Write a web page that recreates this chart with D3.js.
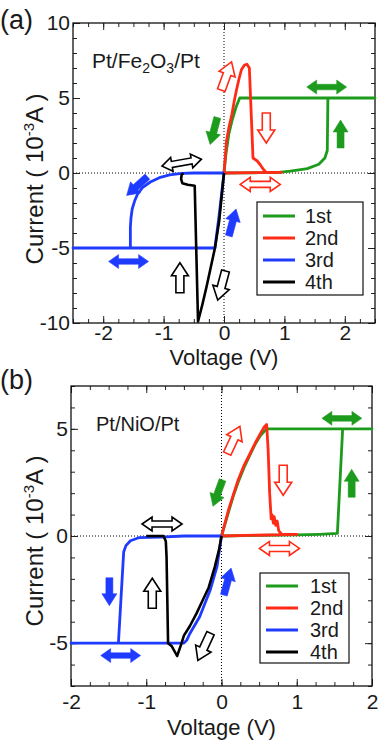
<!DOCTYPE html>
<html>
<head>
<meta charset="utf-8">
<script src="https://cdn.jsdelivr.net/npm/d3@7"></script>
<style>
body { margin: 0; background: #fff; }
svg { display: block; font-family: "Liberation Sans", Arial, sans-serif; }
</style>
</head>
<body>
<div id="chart"></div>
<script>
// sweep names and colours, shared by both panels
var seriesNames = ["1st", "2nd", "3rd", "4th"];
var seriesColors = ["#1d9b1d", "#ff2b16", "#1f3bff", "#000000"];

// ---- (a) Pt/Fe2O3/Pt : voltage (V), current (10^-3 A)
var aXTicks = [-2, -1, 0, 1, 2];
var aYTicks = [-10, -5, 0, 5, 10];
var a1st = [[0,0],[0.3,0.01],[0.6,0.02],[0.9,0.04],[1.1,0.13],[1.38,0.29],[1.57,0.58],[1.67,1.0],[1.71,1.5],[1.72,5.0],
            [2.5,5.0],[0.26,5.0],[0.2,4.4],[0.14,3.6],[0.08,2.6],[0.03,1.2],[0,0]];
var a2nd = [[0,0],[0.02,1.0],[0.04,2.1],[0.08,3.0],[0.13,3.9],[0.17,4.8],[0.21,5.6],[0.25,6.3],[0.29,6.9],[0.34,7.2],[0.38,7.25],
            [0.42,7.0],[0.45,4.0],[0.48,1.0],[0.55,0.8],[0.6,0.55],[0.65,0.25],[0.7,0.04],[0.95,0.04],[0,0]];
var a3rd = [[0,0],[-0.5,0],[-0.7,-0.03],[-0.9,-0.13],[-1.07,-0.31],[-1.22,-0.6],[-1.35,-0.98],[-1.43,-1.4],[-1.48,-1.87],
            [-1.52,-2.4],[-1.54,-3.0],[-1.55,-3.6],[-1.55,-5.0],[-2.5,-5.0],[-0.15,-5.0],[-0.08,-2.8],[0,0]];
var a4th = [[0,0],[-0.04,-1.6],[-0.08,-3.2],[-0.15,-5.0],[-0.22,-6.3],[-0.29,-7.6],[-0.36,-8.8],[-0.43,-9.9],
            [-0.46,-5.0],[-0.485,-0.85],[-0.6,-0.78],[-0.69,-0.68],[-0.71,-0.4],[-0.7,-0.1],[-0.67,-0.02]];

// ---- (b) Pt/NiO/Pt
var bXTicks = [-2, -1, 0, 1, 2];
var bYTicks = [-5, 0, 5];
var b1st = [[0,0],[0.5,0.03],[1.0,0.05],[1.3,0.08],[1.54,0.12],[1.61,5.0],[2.0,5.0],[0.6,5.0],[0.52,4.7],[0.45,4.3],
            [0.38,3.8],[0.3,3.2],[0.22,2.5],[0.16,1.9],[0.1,1.2],[0.05,0.6],[0,0]];
var b2nd = [[0,0],[0.05,0.65],[0.1,1.3],[0.16,1.95],[0.22,2.6],[0.3,3.3],[0.38,3.85],[0.45,4.35],[0.52,4.8],[0.57,5.1],[0.6,5.2],
            [0.62,4.0],[0.64,2.0],[0.66,0.8],[0.67,1.0],[0.69,0.6],[0.7,0.9],[0.72,0.5],[0.74,0.7],[0.76,0.25],[0.8,0.08],[1.0,0.08],[0,0]];
var b3rd = [[0,0],[-0.5,0],[-0.81,-0.05],[-1.1,-0.08],[-1.21,-0.22],[-1.27,-0.45],[-1.3,-0.75],[-1.37,-5.0],[-2.0,-5.0],
            [-0.5,-5.0],[-0.46,-4.85],[-0.42,-4.55],[-0.29,-3.77],[-0.15,-2.52],[-0.06,-1.43],[0,0]];
var b4th = [[0,0],[-0.03,-0.6],[-0.09,-1.45],[-0.17,-2.4],[-0.25,-3.0],[-0.33,-3.6],[-0.42,-4.2],[-0.5,-4.65],[-0.53,-5.0],
            [-0.59,-5.6],[-0.66,-5.15],[-0.71,-5.0],[-0.73,-1.0],[-0.74,-0.25],[-0.77,0],[-1.0,0]];

// arrow annotations: [voltage, current, kind, angle(deg, clockwise from up), series]
var aArrows = [
  [1.7, 5.73, "double", 0, 0], [1.93, 2.6, "single", 0, 0], [-0.17, 2.8, "single", 195, 0],
  [0.04, 6.47, "hollow", 20, 1], [0.7, 3.0, "hollow", 180, 1], [0.6, -0.76, "hollowDouble", 0, 1],
  [-0.7, 0.69, "hollowDouble", -10, 3], [-1.44, -0.87, "single", 228, 2], [-1.58, -5.9, "double", 0, 2],
  [0.14, -3.3, "single", 15, 2], [-0.73, -6.98, "hollow", 0, 3], [-0.04, -7.5, "hollow", 195, 3]
];
var bArrows = [
  [1.6, 5.49, "double", 0, 0], [1.73, 2.46, "single", 0, 0], [-0.05, 2.0, "single", 200, 0],
  [0.16, 4.48, "hollow", 25, 1], [0.82, 2.6, "hollow", 180, 1], [0.77, -0.58, "hollowDouble", 0, 1],
  [-0.79, 0.56, "hollowDouble", 0, 3], [-1.49, -2.6, "single", 180, 2], [-1.34, -5.58, "double", 0, 2],
  [0.08, -2.13, "single", 15, 2], [-0.92, -2.67, "hollow", 0, 3], [-0.23, -5.17, "hollow", 205, 3]
];

var svg = d3.select("#chart").append("svg")
    .attr("width", 382)
    .attr("height", 741);

var arrowShapes = {
    single: "M0,-14 L7.5,-2 L3.5,-2 L3.5,14 L-3.5,14 L-3.5,-2 L-7.5,-2 Z",
    hollow: "M0,-15 L8.5,-2 L4,-2 L4,15 L-4,15 L-4,-2 L-8.5,-2 Z",
    double: "M-20,0 L-10,-7 L-10,-2.8 L10,-2.8 L10,-7 L20,0 L10,7 L10,2.8 L-10,2.8 L-10,7 Z",
    hollowDouble: "M-20,0 L-10,-7 L-10,-3 L10,-3 L10,-7 L20,0 L10,7 L10,3 L-10,3 L-10,7 Z"
};

// plain hyphen minus, no decimals
var fmt = function(d) { return String(d); };

function drawPanel(p) {
    var x = d3.scaleLinear().domain(p.xDomain).range([p.left, p.right]);
    var y = d3.scaleLinear().domain(p.yDomain).range([p.bottom, p.top]);
    var g = svg.append("g");

    // dotted zero lines
    g.append("line").attr("x1", x(0)).attr("x2", x(0)).attr("y1", p.top).attr("y2", p.bottom)
        .attr("stroke", "#000").attr("stroke-width", 1).attr("stroke-dasharray", "1,2");
    g.append("line").attr("x1", p.left).attr("x2", p.right).attr("y1", y(0)).attr("y2", y(0))
        .attr("stroke", "#000").attr("stroke-width", 1).attr("stroke-dasharray", "1,2");

    // minor + major ticks on all four sides, pointing in
    var xMinor = d3.range(p.xDomain[0], p.xDomain[1] + 0.001, 0.25);
    var yMinor = d3.range(p.yDomain[0], p.yDomain[1] + 0.001, 1);
    function ticks(axis, tr, vals, size) {
        var a = g.append("g").attr("transform", tr)
            .call(axis.tickValues(vals).tickSize(-size).tickSizeOuter(0).tickFormat(""));
        a.select(".domain").remove();
        a.selectAll("line").attr("stroke", "#222");
    }
    ticks(d3.axisBottom(x), "translate(0," + p.bottom + ")", xMinor, 4);
    ticks(d3.axisTop(x), "translate(0," + p.top + ")", xMinor, 4);
    ticks(d3.axisLeft(y), "translate(" + p.left + ",0)", yMinor, 4);
    ticks(d3.axisRight(y), "translate(" + p.right + ",0)", yMinor, 4);
    ticks(d3.axisBottom(x), "translate(0," + p.bottom + ")", p.xTicks, 7);
    ticks(d3.axisTop(x), "translate(0," + p.top + ")", p.xTicks, 7);
    ticks(d3.axisLeft(y), "translate(" + p.left + ",0)", p.yTicks, 7);
    ticks(d3.axisRight(y), "translate(" + p.right + ",0)", p.yTicks, 7);

    // tick labels
    var xl = g.append("g").attr("transform", "translate(0," + p.bottom + ")")
        .call(d3.axisBottom(x).tickValues(p.xTicks).tickFormat(fmt).tickSize(0).tickPadding(p.xPad));
    xl.select(".domain").remove();
    var yl = g.append("g").attr("transform", "translate(" + p.left + ",0)")
        .call(d3.axisLeft(y).tickValues(p.yTicks).tickFormat(fmt).tickSize(0).tickPadding(3));
    yl.select(".domain").remove();
    g.selectAll(".tick text").attr("font-size", 21).attr("fill", "#1a1a1a")
        .attr("font-family", "Liberation Sans, Arial, sans-serif");

    // frame
    g.append("rect").attr("x", p.left).attr("y", p.top)
        .attr("width", p.right - p.left).attr("height", p.bottom - p.top)
        .attr("fill", "none").attr("stroke", "#111").attr("stroke-width", 1.3);

    // curves
    var line = d3.line().x(function(d) { return x(d[0]); }).y(function(d) { return y(d[1]); });
    p.series.forEach(function(s, i) {
        g.append("path").datum(s)
            .attr("d", line)
            .attr("fill", "none")
            .attr("stroke", seriesColors[i])
            .attr("stroke-width", i == 3 ? 2.6 : 2.8)
            .attr("stroke-linejoin", "round");
    });

    // sweep arrows
    p.arrows.forEach(function(a) {
        var hollow = a[2].indexOf("hollow") == 0;
        g.append("path")
            .attr("d", arrowShapes[a[2]])
            .attr("transform", "translate(" + x(a[0]) + "," + y(a[1]) + ") rotate(" + a[3] + ")")
            .attr("fill", hollow ? "#fff" : seriesColors[a[4]])
            .attr("stroke", seriesColors[a[4]])
            .attr("stroke-width", hollow ? 1.6 : 0.5)
            .attr("stroke-linejoin", "miter");
    });

    // legend
    var lg = g.append("g");
    lg.append("rect").attr("x", p.legend.x).attr("y", p.legend.y)
        .attr("width", p.legend.w).attr("height", p.legend.h)
        .attr("fill", "#fff").attr("stroke", "#111").attr("stroke-width", 1.2);
    seriesNames.forEach(function(name, i) {
        var yy = p.legend.y + p.legend.first + i * p.legend.step;
        lg.append("line").attr("x1", p.legend.x + 6).attr("x2", p.legend.x + 38)
            .attr("y1", yy).attr("y2", yy)
            .attr("stroke", seriesColors[i]).attr("stroke-width", 3);
        lg.append("text").attr("x", p.legend.x + p.legend.tx).attr("y", yy + 7)
            .attr("font-size", 20).attr("fill", "#1a1a1a").text(name);
    });

    // axis titles
    g.append("text").attr("x", (p.left + p.right) / 2).attr("y", p.xTitleY)
        .attr("text-anchor", "middle").attr("font-size", 22).attr("fill", "#1a1a1a")
        .text("Voltage (V)");
    var yt = g.append("text")
        .attr("transform", "translate(43," + p.yTitleC + ") rotate(-90)")
        .attr("text-anchor", "middle").attr("font-size", 24).attr("fill", "#1a1a1a");
    yt.append("tspan").text("Current ( 10");
    yt.append("tspan").attr("font-size", 15).attr("dy", -9).text("-3");
    yt.append("tspan").attr("dy", 9).text("A )");

    // panel letter
    g.append("text").attr("x", 0).attr("y", p.letterY)
        .attr("font-size", 27).attr("fill", "#1a1a1a").text(p.letter);

    return g;
}

var ga = drawPanel({
    xDomain: [-2.5, 2.5], yDomain: [-10, 10], left: 73, right: 375, top: 23, bottom: 323,
    xTicks: aXTicks, yTicks: aYTicks, xPad: 2,
    series: [a1st, a2nd, a3rd, a4th], arrows: aArrows,
    legend: {x: 257, y: 202, w: 106, h: 93, first: 14, step: 22, tx: 48},
    xTitleY: 365, yTitleC: 179, letter: "(a)", letterY: 29
});
var ta = ga.append("text").attr("x", 92).attr("y", 68).attr("font-size", 21).attr("fill", "#1a1a1a");
ta.append("tspan").text("Pt/Fe");
ta.append("tspan").attr("font-size", 14).attr("dy", 5).text("2");
ta.append("tspan").attr("dy", -5).text("O");
ta.append("tspan").attr("font-size", 14).attr("dy", 5).text("3");
ta.append("tspan").attr("dy", -5).text("/Pt");

var gb = drawPanel({
    xDomain: [-2, 2], yDomain: [-7, 7], left: 71, right: 372, top: 386, bottom: 686,
    xTicks: bXTicks, yTicks: bYTicks, xPad: 8,
    series: [b1st, b2nd, b3rd, b4th], arrows: bArrows,
    legend: {x: 260, y: 573, w: 89, h: 90, first: 13, step: 22, tx: 50},
    xTitleY: 735, yTitleC: 541, letter: "(b)", letterY: 389
});
gb.append("text").attr("x", 96).attr("y", 431).attr("font-size", 20).attr("fill", "#1a1a1a")
    .text("Pt/NiO/Pt");
</script>
</body>
</html>
